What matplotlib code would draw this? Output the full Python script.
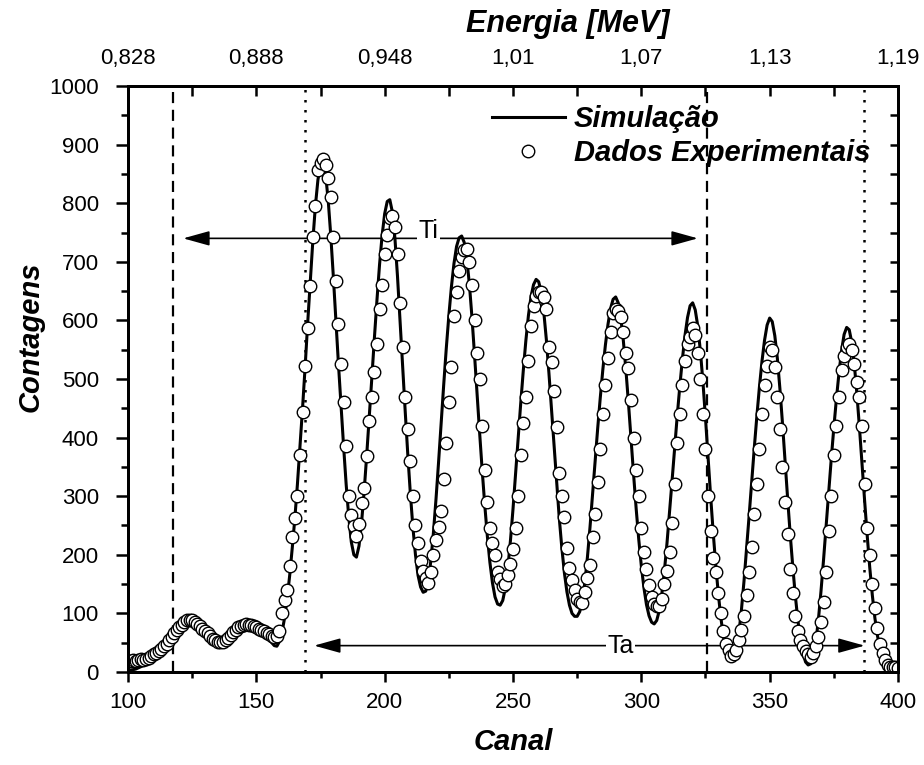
import numpy as np
import matplotlib
matplotlib.use('Agg')
import matplotlib.pyplot as plt

plt.rcParams['font.family'] = ['Liberation Sans', 'DejaVu Sans']

# canal 100..400, one value per canal
canal = np.arange(100, 401)

simulacao = [
    2, 3, 4, 5, 7, 9, 11, 14, 17, 20,
    24, 28, 32, 37, 42, 47, 53, 59, 65, 71,
    76, 80, 84, 86, 87, 87, 86, 84, 80, 76,
    71, 66, 61, 57, 54, 52, 51, 52, 54, 57,
    61, 66, 70, 74, 77, 79, 80, 80, 79, 77,
    75, 72, 69, 65, 60, 55, 50, 45, 44, 52,
    68, 92, 125, 165, 212, 262, 320, 385, 450, 520,
    595, 665, 735, 795, 840, 865, 868, 848, 805, 745,
    675, 600, 525, 455, 385, 320, 265, 222, 200, 196,
    215, 255, 308, 370, 435, 502, 570, 635, 695, 745,
    782, 803, 806, 785, 740, 675, 600, 522, 445, 372,
    305, 247, 200, 165, 145, 136, 138, 155, 190, 238,
    295, 358, 425, 490, 552, 608, 657, 697, 726, 741,
    744, 733, 705, 662, 606, 542, 475, 408, 344, 285,
    232, 187, 152, 128, 116, 114, 122, 143, 178, 224,
    278, 337, 398, 458, 514, 565, 608, 640, 661, 670,
    666, 648, 614, 567, 510, 448, 384, 322, 264, 213,
    170, 137, 114, 100, 95, 95, 103, 122, 153, 196,
    247, 303, 360, 416, 468, 516, 558, 593, 620, 636,
    640, 630, 604, 565, 515, 458, 397, 336, 278, 226,
    181, 144, 115, 96, 85, 82, 88, 105, 134, 173,
    220, 273, 328, 384, 438, 488, 534, 574, 605, 625,
    630, 618, 590, 548, 495, 433, 367, 300, 238, 182,
    133, 92, 60, 37, 23, 18, 22, 38, 66, 106,
    155, 210, 267, 325, 382, 436, 486, 530, 566, 592,
    604, 598, 574, 535, 483, 424, 360, 296, 235, 180,
    130, 88, 55, 31, 17, 12, 14, 27, 52, 90,
    138, 192, 250, 308, 364, 417, 466, 510, 548, 576,
    588, 584, 562, 524, 474, 416, 354, 292, 233, 178,
    131, 92, 62, 40, 25, 16, 10, 7, 5, 4,
    3,
]

experimental = [
    18, 19, 20, 19, 21, 22, 21, 22, 24, 27,
    30, 33, 36, 40, 44, 48, 54, 60, 66, 72,
    77, 81, 85, 88, 89, 88, 86, 82, 78, 74,
    70, 66, 61, 57, 54, 52, 51, 52, 55, 58,
    63, 68, 72, 76, 79, 81, 82, 81, 80, 78,
    76, 74, 72, 70, 67, 64, 62, 60, 62, 70,
    100, 123, 140, 181, 230, 262, 300, 370, 444, 522,
    587, 658, 743, 795, 856, 869, 876, 866, 843, 811,
    743, 668, 594, 525, 460, 386, 300, 268, 249, 232,
    252, 288, 314, 369, 428, 470, 512, 560, 619, 660,
    714, 746, 775, 779, 759, 714, 630, 555, 470, 415,
    360, 300, 250, 220, 190, 172, 160, 152, 171, 200,
    225, 248, 275, 330, 390, 460, 520, 608, 649, 685,
    708, 720, 722, 700, 660, 600, 545, 500, 420, 345,
    290, 245, 220, 200, 170, 158, 146, 150, 166, 185,
    210, 245, 300, 370, 425, 470, 530, 590, 625, 642,
    648, 648, 640, 620, 555, 529, 480, 418, 340, 300,
    265, 212, 178, 157, 140, 125, 120, 118, 137, 160,
    182, 230, 270, 325, 380, 440, 490, 535, 580, 612,
    620, 616, 605, 580, 545, 519, 464, 400, 345, 300,
    245, 205, 175, 148, 128, 116, 112, 112, 125, 150,
    172, 205, 255, 320, 390, 440, 490, 530, 560, 572,
    587, 575, 545, 500, 440, 380, 300, 240, 195, 170,
    135, 100, 70, 48, 38, 28, 30, 38, 55, 72,
    95, 131, 170, 214, 270, 320, 380, 440, 490, 522,
    555, 550, 520, 470, 415, 350, 290, 235, 175, 135,
    95, 70, 55, 45, 35, 30, 26, 32, 45, 60,
    85, 120, 170, 240, 300, 370, 420, 470, 515, 540,
    555, 560, 550, 525, 495, 470, 420, 320, 245, 200,
    150, 110, 75, 48, 33, 20, 12, 9, 8, 8,
    7,
]

energia_ticks = [100, 150, 200, 250, 300, 350, 400]
energia_labels = ['0,828', '0,888', '0,948', '1,01', '1,07', '1,13', '1,19']

linhas_tracejadas = [117.6, 325.5]
linhas_pontilhadas = [169, 386.7]

seta_ti = (121.5, 322, 740)
seta_ta = (172.5, 387, 45)
texto_ti = (217, 752)
texto_ta = (292, 45)

fig = plt.figure(figsize=(9.24, 7.65), dpi=100)
ax = fig.add_axes([0.13853, 0.12157, 0.83333, 0.76601])

for xv in linhas_tracejadas:
    ax.axvline(xv, color='k', lw=1.6, ls=(0, (5, 3)), zorder=1)
for xv in linhas_pontilhadas:
    ax.axvline(xv, color='k', lw=1.8, ls=(0, (1, 3)), zorder=1)

arrow_kw = dict(arrowstyle='<|-|>,head_length=0.9,head_width=0.25', color='k',
                lw=1.2, shrinkA=0, shrinkB=0, mutation_scale=18)
ax.annotate('', xy=(seta_ti[0], seta_ti[2]), xytext=(seta_ti[1], seta_ti[2]),
            arrowprops=arrow_kw, zorder=2)
ax.annotate('', xy=(seta_ta[0], seta_ta[2]), xytext=(seta_ta[1], seta_ta[2]),
            arrowprops=arrow_kw, zorder=2)
ax.text(texto_ti[0], texto_ti[1], 'Ti', fontsize=18, ha='center', va='center',
        bbox=dict(facecolor='white', edgecolor='none', pad=1), zorder=2.5)
ax.text(texto_ta[0], texto_ta[1], 'Ta', fontsize=18, ha='center', va='center',
        bbox=dict(facecolor='white', edgecolor='none', pad=1), zorder=2.5)

ax.plot(canal, simulacao, color='k', lw=2.2, label='Simulação', zorder=3)
ax.plot(canal, experimental, ls='none', marker='o', ms=9, mfc='white', mec='k',
        mew=1.0, label='Dados Experimentais', zorder=4)

ax.set_xlim(100, 400)
ax.set_ylim(0, 1000)
ax.set_xticks(np.arange(100, 401, 50))
ax.set_xticks(np.arange(125, 400, 50), minor=True)
ax.set_yticks(np.arange(0, 1001, 100))
ax.set_yticks(np.arange(50, 1000, 100), minor=True)
ax.tick_params(axis='x', which='major', direction='out', length=7, width=1.8,
               labelsize=16, pad=7.5)
ax.tick_params(axis='x', which='minor', direction='out', length=4, width=1.8)
ax.tick_params(axis='y', which='major', direction='out', length=9, width=1.8,
               labelsize=16, pad=12)
ax.tick_params(axis='y', which='minor', direction='out', length=5, width=1.8)
for sp in ax.spines.values():
    sp.set_linewidth(2)

ax.set_xlabel('Canal', fontsize=21, fontweight='bold', style='italic', labelpad=11)
ax.set_ylabel('Contagens', fontsize=21, fontweight='bold', style='italic')
ax.yaxis.set_label_coords(-0.108, 0.572)

# top axis: energy
ax2 = ax.twiny()
ax2.set_xlim(100, 400)
ax2.set_xticks(energia_ticks)
ax2.set_xticklabels(energia_labels)
ax2.set_xticks(np.arange(125, 400, 50), minor=True)
ax2.tick_params(axis='x', which='both', direction='in', length=7, width=1.8,
                labelsize=16, pad=12.5)
ax2.set_xlabel('Energia [MeV]', fontsize=22, fontweight='bold', style='italic')
ax2.xaxis.set_label_coords(0.571, 1.093)
for sp in ax2.spines.values():
    sp.set_linewidth(2)

# right axis ticks, inward
ax3 = ax.twinx()
ax3.set_ylim(0, 1000)
ax3.set_yticks(np.arange(0, 1001, 100))
ax3.set_yticks(np.arange(50, 1000, 100), minor=True)
ax3.tick_params(axis='y', which='both', direction='in', length=6, width=1.8,
                labelright=False)
for sp in ax3.spines.values():
    sp.set_linewidth(2)

leg = ax.legend(loc='upper left', bbox_to_anchor=(0.4727, 0.9676), frameon=False,
                borderpad=0, borderaxespad=0, handlelength=2.5, handletextpad=0.3,
                labelspacing=0.2, numpoints=1,
                prop=dict(family='Liberation Sans', weight='bold', style='italic', size=21))

fig.savefig('out.png', dpi=100)
